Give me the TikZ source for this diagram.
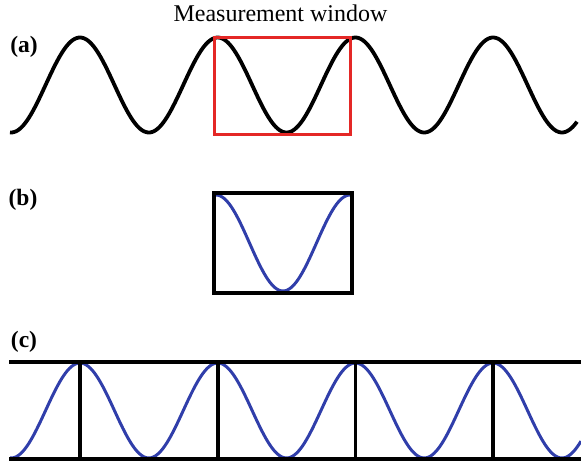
\documentclass[tikz,border=0pt]{standalone}
\usepackage{fontspec}
\newfontfamily\tnr{Liberation Serif}
\definecolor{wred}{RGB}{228,40,38}
\definecolor{wblue}{RGB}{48,62,170}
\tikzset{
  blackwave/.style={line width=3.8pt, black, line join=round},
  bluewave/.style={line width=3pt, wblue, line join=round},
  frame/.style={line width=3.6pt, black},
  redframe/.style={line width=3pt, wred},
  panel/.style={font=\tnr\fontsize{23.5}{26}\selectfont\bfseries, inner sep=0pt},
  title/.style={font=\tnr\fontsize{24}{28}\selectfont, inner sep=0pt, anchor=base}
}
\begin{document}
\begin{tikzpicture}[x=1pt,y=-1pt]
\useasboundingbox (0,0) rectangle (581,466);
% titles
\node[title] (mw) at (280.5,21) {Measurement window};
\node[panel] (la) at (24,47) {(a)};
\node[panel] (lb) at (23,200) {(b)};
\node[panel] (lc) at (24,342) {(c)};
% (a)
\draw[blackwave] plot[domain=10:577, samples=300, smooth] (\x,{85-47.5*cos((\x-80)*2.61438)});
\draw[redframe] (214,37) rectangle (350.5,134);
% (b)
\draw[bluewave] plot[domain=216:350, samples=150, smooth] (\x,{243-48*cos((\x-216)*2.68657)});
\draw[frame] (214,193) rectangle (352,293);
% (c)
\draw[bluewave] plot[domain=10:581, samples=300, smooth] (\x,{410.5-47.5*cos((\x-80)*2.61438)});
\draw[frame] (9,362) -- (581,362);
\draw[frame] (9,459) -- (581,459);
\foreach \vx in {80,217.7,355.3,493} {
  \draw[frame] (\vx,362) -- (\vx,459);
}
\end{tikzpicture}
\end{document}
